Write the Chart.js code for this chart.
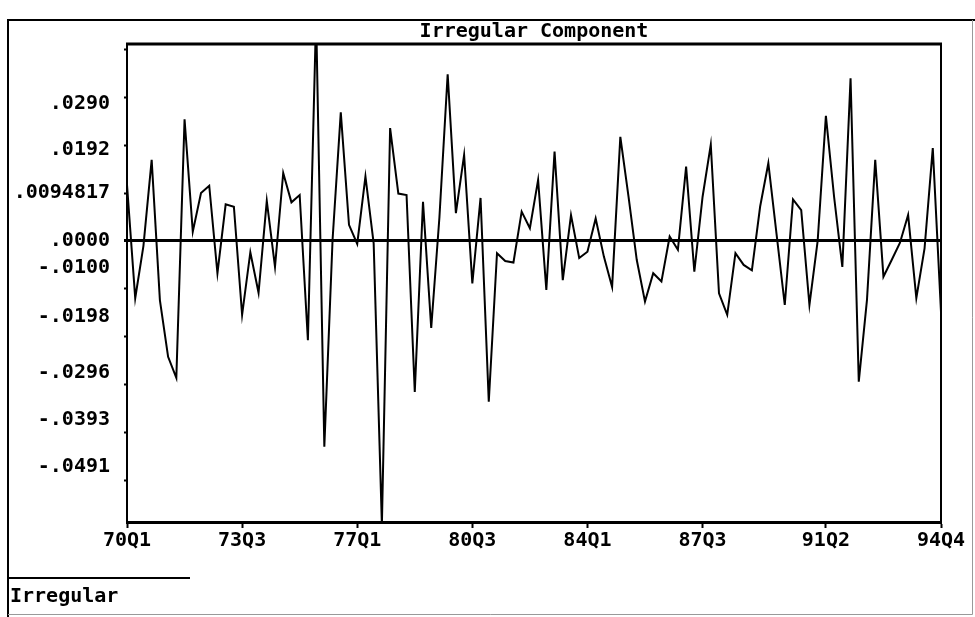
<!DOCTYPE html>
<html>
<head>
<meta charset="utf-8">
<script src="https://cdn.jsdelivr.net/npm/chart.js@4.4.1/dist/chart.umd.min.js"></script>
<style>
html,body{margin:0;padding:0;background:#fff;}
canvas{display:block;}
</style>
</head>
<body>
<canvas id="c" width="975" height="617"></canvas>
<script>
// ---- data ----
const firstYear = 70, lastYear = 94;
const quarters = [];
for (let y = firstYear; y <= lastYear; y++) for (let q = 1; q <= 4; q++) quarters.push(y + 'Q' + q);

const irregular = [
  0.0115, -0.0117, -0.0010, 0.0166, -0.0121, -0.0237, -0.0280, 0.0249, 0.0019, 0.0098,
  0.0113, -0.0066, 0.0075, 0.0070, -0.0151, -0.0023, -0.0106, 0.0082, -0.0053, 0.0139,
  0.0079, 0.0094, -0.0203, 0.0460, -0.0421, 0.0002, 0.0263, 0.0033, -0.0006, 0.0132,
  -0.0005, -0.0580, 0.0231, 0.0097, 0.0094, -0.0309, 0.0080, -0.0178, 0.0049, 0.0341,
  0.0057, 0.0176, -0.0087, 0.0088, -0.0329, -0.0025, -0.0041, -0.0044, 0.0060, 0.0026,
  0.0125, -0.0100, 0.0183, -0.0080, 0.0053, -0.0035, -0.0022, 0.0046, -0.0032, -0.0094,
  0.0213, 0.0090, -0.0039, -0.0124, -0.0066, -0.0083, 0.0009, -0.0018, 0.0152, -0.0063,
  0.0090, 0.0197, -0.0107, -0.0151, -0.0025, -0.0049, -0.0060, 0.0070, 0.0159, 0.0014,
  -0.0131, 0.0085, 0.0063, -0.0131, 0.0000, 0.0256, 0.0090, -0.0053, 0.0333, -0.0288,
  -0.0120, 0.0166, -0.0073, -0.0039, -0.0004, 0.0053, -0.0117, -0.0015, 0.0190, -0.0145
];

const xTickLabels = ['70Q1', '73Q3', '77Q1', '80Q3', '84Q1', '87Q3', '91Q2', '94Q4'];
const yTickLabels = ['.0290', '.0192', '.0094817', '.0000', '-.0100', '-.0198', '-.0296', '-.0393', '-.0491'];
// data-unit values at which the reference prints each y label
const yLabelAt = [0.0280, 0.0186, 0.0098, 0.0000, -0.0055, -0.0156, -0.0270, -0.0366, -0.0463];
const yTickStep = 0.0098;
const yMin = -0.0575, yMax = 0.0403;
const seriesName = 'Irregular';
const chartTitle = 'Irregular Component';

// ---- drawing ----
const FONT = "'DejaVu Sans Mono', 'Liberation Mono', monospace";
const PLOT_LEFT = 127, PAD_LEFT = 8, Y_INNER = 3;

const framePlugin = {
  id: 'frame',
  beforeDraw(chart) {
    const ctx = chart.ctx;
    ctx.save();
    ctx.fillStyle = '#fff';
    ctx.fillRect(0, 0, chart.width, chart.height);
    ctx.restore();
  },
  afterDraw(chart) {
    const ctx = chart.ctx;
    const a = chart.chartArea;
    ctx.save();
    ctx.strokeStyle = '#000';
    // plot top & right borders
    ctx.lineWidth = 3;
    ctx.beginPath(); ctx.moveTo(a.left - 1, a.top); ctx.lineTo(a.right + 1, a.top); ctx.stroke();
    ctx.lineWidth = 2;
    ctx.beginPath(); ctx.moveTo(a.right, a.top); ctx.lineTo(a.right, a.bottom); ctx.stroke();
    // outer frame
    ctx.lineWidth = 2;
    ctx.beginPath(); ctx.moveTo(8, 617); ctx.lineTo(8, 20); ctx.lineTo(975, 20); ctx.stroke();
    ctx.strokeStyle = '#999';
    ctx.lineWidth = 1;
    ctx.beginPath(); ctx.moveTo(972.5, 20); ctx.lineTo(972.5, 614.5); ctx.lineTo(8, 614.5); ctx.stroke();
    // legend
    ctx.strokeStyle = '#000';
    ctx.lineWidth = 2;
    ctx.beginPath(); ctx.moveTo(8, 578); ctx.lineTo(190, 578); ctx.stroke();
    ctx.fillStyle = '#000';
    ctx.font = 'bold 20px ' + FONT;
    ctx.textBaseline = 'middle';
    ctx.textAlign = 'left';
    ctx.fillText(seriesName, 10, 597);
    ctx.restore();
  }
};

new Chart(document.getElementById('c'), {
  type: 'line',
  data: {
    labels: quarters,
    datasets: [{
      label: seriesName,
      data: irregular,
      borderColor: '#000',
      borderWidth: 2,
      pointRadius: 0,
      tension: 0,
      fill: false,
      xAxisID: 'x',
      yAxisID: 'y'
    }]
  },
  options: {
    responsive: false,
    devicePixelRatio: 1,
    animation: false,
    events: [],
    layout: { padding: { left: PAD_LEFT, right: 34, top: 0, bottom: 55 } },
    plugins: {
      legend: { display: false },
      tooltip: { enabled: false },
      title: {
        display: true,
        text: chartTitle,
        fullSize: false,
        color: '#000',
        font: { family: FONT, size: 20, weight: 'bold', lineHeight: 1 },
        padding: { top: 22, bottom: 2 }
      }
    },
    scales: {
      x: {
        type: 'category',
        offset: false,
        afterBuildTicks(scale) {
          scale.ticks = scale.ticks.filter(t => xTickLabels.includes(quarters[t.value]));
        },
        afterFit(scale) { scale.height = 40; },
        ticks: {
          autoSkip: false,
          maxRotation: 0,
          minRotation: 0,
          color: '#000',
          padding: 1,
          font: { family: FONT, size: 20, weight: 'bold' },
          callback(v) { return quarters[v]; }
        },
        grid: { drawOnChartArea: false, drawTicks: true, tickLength: 6, tickColor: '#000', tickWidth: 2 },
        border: { display: true, color: '#000', width: 3 }
      },
      y: {
        type: 'linear',
        position: 'left',
        weight: 0,
        min: yMin,
        max: yMax,
        afterBuildTicks(scale) {
          const t = [];
          for (let k = Math.ceil(yMin / yTickStep); k <= Math.floor(yMax / yTickStep); k++) t.push({ value: k * yTickStep });
          scale.ticks = t;
        },
        afterFit(scale) { scale.width = Y_INNER; },
        ticks: { display: false },
        grid: {
          drawOnChartArea: true,
          drawTicks: true,
          tickLength: 3,
          color: c => (c.tick && Math.abs(c.tick.value) < 1e-9) ? '#000' : 'rgba(0,0,0,0)',
          lineWidth: c => (c.tick && Math.abs(c.tick.value) < 1e-9) ? 3 : 1,
          tickColor: '#000',
          tickWidth: c => (c.tick && Math.abs(c.tick.value) < 1e-9) ? 3 : 2
        },
        border: { display: true, color: '#000', width: 2 }
      },
      yl: {
        type: 'linear',
        position: 'left',
        weight: 10,
        min: yMin,
        max: yMax,
        afterBuildTicks(scale) {
          scale.ticks = yLabelAt.map(v => ({ value: v }));
        },
        afterFit(scale) { scale.width = PLOT_LEFT - PAD_LEFT - Y_INNER; },
        ticks: {
          color: '#000',
          padding: 6,
          font: { family: FONT, size: 20, weight: 'bold' },
          callback(v, i) { return yTickLabels[i]; }
        },
        grid: { display: false },
        border: { display: false }
      }
    }
  },
  plugins: [framePlugin]
});
</script>
</body>
</html>
